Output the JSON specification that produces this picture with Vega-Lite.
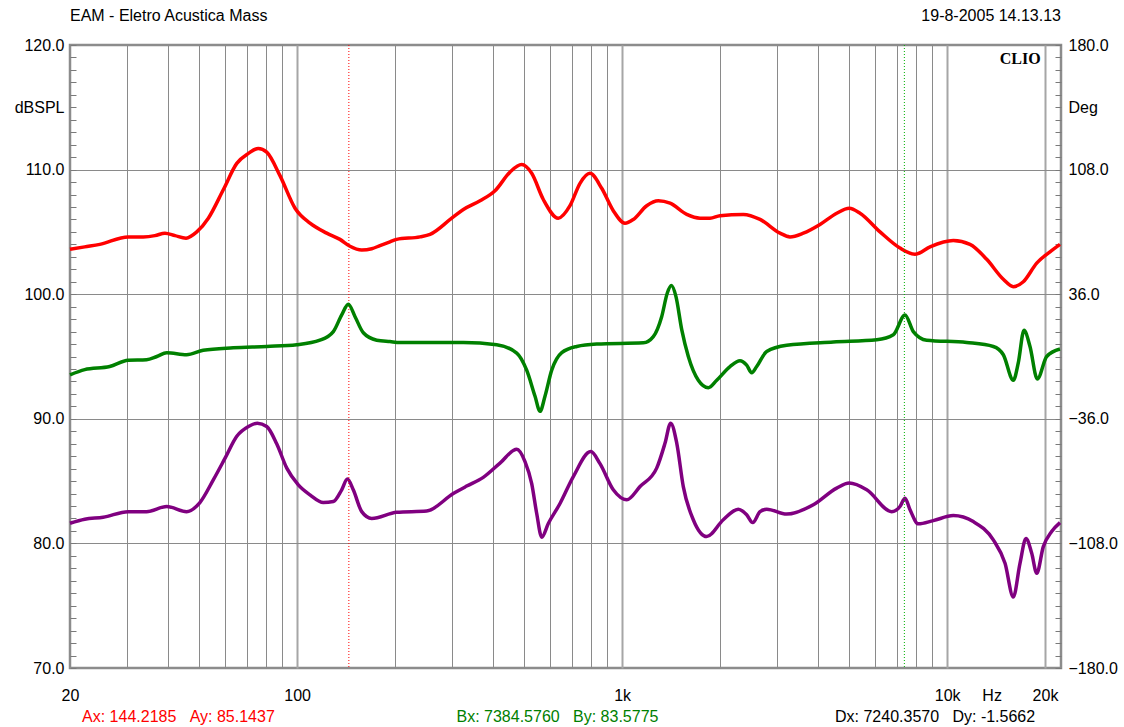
{
  "$schema": "https://vega.github.io/schema/vega-lite/v6.json",
  "width": 991,
  "height": 623,
  "autosize": {"type": "none"},
  "padding": {"left": 70, "top": 45, "right": 63, "bottom": 59},
  "background": "white",
  "config": {
    "font": "Liberation Sans",
    "view": {"stroke": "#8c8c8c", "strokeWidth": 2.5},
    "axis": {"labelFont": "Liberation Sans", "labelFontSize": 16, "labelColor": "#000000", "domain": false, "title": null, "labelOverlap": false}
  },
  "datasets": {
    "spl_red": [
      {"f":20,"v":103.6},{"f":22.2,"v":103.8},{"f":24.7,"v":104.0},{"f":30.2,"v":104.6},{"f":33.6,"v":104.6},{"f":36.5,"v":104.7},{"f":39.2,"v":104.9},{"f":42.1,"v":104.7},{"f":45.5,"v":104.5},{"f":49.1,"v":105.0},{"f":53.3,"v":106.1},{"f":59.3,"v":108.4},{"f":65.2,"v":110.5},{"f":70.8,"v":111.3},{"f":75.9,"v":111.7},{"f":80.6,"v":111.4},{"f":88.6,"v":109.5},{"f":98.5,"v":106.9},{"f":109.5,"v":105.7},{"f":123.3,"v":104.9},{"f":135.4,"v":104.4},{"f":145.4,"v":103.85},{"f":158,"v":103.55},{"f":169.6,"v":103.65},{"f":179.8,"v":103.9},{"f":193,"v":104.2},{"f":202.4,"v":104.4},{"f":238.8,"v":104.6},{"f":256.4,"v":104.8},{"f":298.9,"v":106.1},{"f":324.6,"v":106.8},{"f":365.3,"v":107.5},{"f":406.2,"v":108.3},{"f":451.8,"v":109.8},{"f":490.8,"v":110.4},{"f":526.8,"v":109.7},{"f":572,"v":107.6},{"f":636,"v":106.1},{"f":691,"v":107.1},{"f":741.8,"v":108.9},{"f":796,"v":109.7},{"f":865,"v":108.5},{"f":939,"v":106.7},{"f":1020,"v":105.7},{"f":1082,"v":106.0},{"f":1190,"v":107.1},{"f":1292,"v":107.5},{"f":1404,"v":107.3},{"f":1580,"v":106.4},{"f":1736,"v":106.1},{"f":1863,"v":106.1},{"f":2000,"v":106.3},{"f":2359,"v":106.4},{"f":2656,"v":106.0},{"f":3060,"v":104.9},{"f":3284,"v":104.6},{"f":3610,"v":104.9},{"f":4062,"v":105.6},{"f":4572,"v":106.5},{"f":4998,"v":106.9},{"f":5394,"v":106.5},{"f":6214,"v":105.0},{"f":7158,"v":103.7},{"f":7962,"v":103.2},{"f":8857,"v":103.8},{"f":10444,"v":104.3},{"f":11754,"v":104.0},{"f":13232,"v":102.8},{"f":14886,"v":101.2},{"f":15980,"v":100.6},{"f":17150,"v":101.0},{"f":18860,"v":102.5},{"f":20720,"v":103.4},{"f":22240,"v":104.0}
    ],
    "spl_purple": [
      {"f":20,"v":81.62},{"f":22.2,"v":81.94},{"f":25.3,"v":82.1},{"f":30.2,"v":82.55},{"f":34.4,"v":82.55},{"f":39.7,"v":82.96},{"f":45.7,"v":82.55},{"f":50.2,"v":83.28},{"f":55.2,"v":85.1},{"f":60.0,"v":86.84},{"f":65.2,"v":88.6},{"f":70.8,"v":89.38},{"f":75.4,"v":89.65},{"f":80.6,"v":89.38},{"f":86.5,"v":88.0},{"f":92.9,"v":86.04},{"f":100.8,"v":84.7},{"f":109.5,"v":83.9},{"f":120.3,"v":83.28},{"f":129.2,"v":83.36},{"f":137.1,"v":84.3},{"f":142.7,"v":85.16},{"f":148.8,"v":84.3},{"f":158,"v":82.55},{"f":169.6,"v":82.0},{"f":202.4,"v":82.5},{"f":250.4,"v":82.6},{"f":302.2,"v":84.0},{"f":332.4,"v":84.6},{"f":373.8,"v":85.3},{"f":420.8,"v":86.44},{"f":473.8,"v":87.56},{"f":502.4,"v":86.57},{"f":526.8,"v":84.8},{"f":545.8,"v":82.4},{"f":565.6,"v":80.5},{"f":592.6,"v":81.6},{"f":643.8,"v":83.2},{"f":707.4,"v":85.36},{"f":800.4,"v":87.37},{"f":854.6,"v":86.4},{"f":939,"v":84.3},{"f":1033,"v":83.5},{"f":1135,"v":84.56},{"f":1277,"v":86.04},{"f":1355,"v":88.05},{"f":1410,"v":89.65},{"f":1472,"v":88.05},{"f":1542,"v":84.56},{"f":1655,"v":81.9},{"f":1820,"v":80.55},{"f":2047,"v":81.9},{"f":2276,"v":82.75},{"f":2416,"v":82.3},{"f":2522,"v":81.67},{"f":2656,"v":82.55},{"f":2784,"v":82.75},{"f":3208,"v":82.35},{"f":3874,"v":83.1},{"f":4572,"v":84.44},{"f":4998,"v":84.84},{"f":5656,"v":84.3},{"f":6752,"v":82.55},{"f":7158,"v":82.96},{"f":7418,"v":83.63},{"f":7686,"v":82.7},{"f":8152,"v":81.57},{"f":9064,"v":81.83},{"f":10444,"v":82.23},{"f":12032,"v":81.75},{"f":13866,"v":80.28},{"f":15068,"v":78.4},{"f":15980,"v":75.7},{"f":16752,"v":78.4},{"f":17480,"v":80.4},{"f":18204,"v":79.2},{"f":18860,"v":77.6},{"f":19762,"v":79.74},{"f":20960,"v":80.95},{"f":22240,"v":81.67}
    ],
    "phase": [
      {"f":20,"deg":-10.6},{"f":22.2,"deg":-7.6},{"f":26.5,"deg":-5.8},{"f":30.2,"deg":-2.2},{"f":34.4,"deg":-1.9},{"f":37.0,"deg":0},{"f":39.7,"deg":2.2},{"f":45.7,"deg":1.0},{"f":51.4,"deg":3.6},{"f":63.6,"deg":5.0},{"f":80.6,"deg":5.8},{"f":99.7,"deg":6.8},{"f":117.5,"deg":9.4},{"f":129.2,"deg":14.4},{"f":137.1,"deg":24.1},{"f":143.7,"deg":30.2},{"f":150.7,"deg":23.0},{"f":159.8,"deg":13.7},{"f":175.7,"deg":9.4},{"f":193,"deg":8.6},{"f":207.2,"deg":8.1},{"f":324.6,"deg":8.1},{"f":411,"deg":6.8},{"f":473.8,"deg":2.0},{"f":508.4,"deg":-7.9},{"f":539.4,"deg":-23.0},{"f":558.8,"deg":-31.7},{"f":578.8,"deg":-23.0},{"f":607,"deg":-7.9},{"f":651.8,"deg":2.2},{"f":724.8,"deg":5.8},{"f":835,"deg":7.2},{"f":1162,"deg":7.9},{"f":1247,"deg":11.5},{"f":1323,"deg":23.0},{"f":1377,"deg":36.7},{"f":1417,"deg":41.0},{"f":1464,"deg":34.6},{"f":1525,"deg":15.5},{"f":1598,"deg":0},{"f":1715,"deg":-13.7},{"f":1841,"deg":-18},{"f":1954,"deg":-13.7},{"f":2147,"deg":-5.8},{"f":2304,"deg":-2.4},{"f":2416,"deg":-5.0},{"f":2504,"deg":-9.4},{"f":2594,"deg":-5.8},{"f":2784,"deg":2.9},{"f":3208,"deg":6.5},{"f":4463,"deg":8.4},{"f":6072,"deg":9.7},{"f":6830,"deg":12.6},{"f":7418,"deg":24.0},{"f":7868,"deg":14.4},{"f":8650,"deg":9.4},{"f":11484,"deg":8.1},{"f":13866,"deg":5.8},{"f":14886,"deg":1.0},{"f":15980,"deg":-13.7},{"f":16554,"deg":-3.6},{"f":17236,"deg":15.1},{"f":17982,"deg":5.8},{"f":18938,"deg":-13.0},{"f":20240,"deg":0},{"f":22240,"deg":4.3}
    ],
    "cursors": [
      {"cursor":"A","f":144.2185},{"cursor":"B","f":7384.576}
    ]
  },
  "layer": [
    {
      "data": {"name": "spl_red"},
      "mark": {"type": "line", "color": "#ff0000", "strokeWidth": 3.5, "interpolate": "monotone", "strokeJoin": "round"},
      "encoding": {
        "x": {
          "field": "f", "type": "quantitative",
          "scale": {"type": "log", "domain": [20, 22400], "nice": false},
          "axis": {
            "orient": "bottom",
            "values": [20,30,40,50,60,70,80,90,100,200,300,400,500,600,700,800,900,1000,2000,3000,4000,5000,6000,7000,8000,9000,10000,13700,20000],
            "labelExpr": "datum.value == 20 ? '20' : datum.value == 100 ? '100' : datum.value == 1000 ? '1k' : datum.value == 10000 ? '10k' : datum.value == 13700 ? 'Hz' : datum.value == 20000 ? '20k' : ''",
            "ticks": false,
            "labelPadding": 19,
            "labelFlush": false,
            "labelOverlap": false,
            "grid": true,
            "gridOpacity": {"condition": {"test": "datum.value == 13700 || datum.value == 20", "value": 0}, "value": 1},
            "gridColor": {"condition": {"test": "datum.value == 100 || datum.value == 1000 || datum.value == 10000 || datum.value == 20000", "value": "#a6a6a6"}, "value": "#8a8a8a"},
            "gridWidth": {"condition": {"test": "datum.value == 100 || datum.value == 1000 || datum.value == 10000 || datum.value == 20000", "value": 2}, "value": 1}
          }
        },
        "y": {
          "field": "v", "type": "quantitative",
          "scale": {"domain": [70, 120], "nice": false, "zero": false},
          "axis": {
            "orient": "left",
            "values": [70,71,72,73,74,75,76,77,78,79,80,81,82,83,84,85,86,87,88,89,90,91,92,93,94,95,96,97,98,99,100,101,102,103,104,105,106,107,108,109,110,111,112,113,114,115,116,117,118,119,120],
            "labelExpr": "datum.value % 10 == 0 ? format(datum.value, '.1f') : (datum.value == 115 ? 'dBSPL' : '')",
            "tickSize": -6,
            "tickColor": "#7a7a7a",
            "tickWidth": 1,
            "labelPadding": 12,
            "grid": true,
            "gridColor": "#8a8a8a",
            "gridOpacity": {"condition": {"test": "datum.value % 10 == 0 && datum.value > 70 && datum.value < 120", "value": 1}, "value": 0}
          }
        }
      }
    },
    {
      "data": {"name": "spl_purple"},
      "mark": {"type": "line", "color": "#800080", "strokeWidth": 3.5, "interpolate": "monotone", "strokeJoin": "round"},
      "encoding": {
        "x": {"field": "f", "type": "quantitative"},
        "y": {"field": "v", "type": "quantitative", "scale": {"domain": [70, 120], "nice": false, "zero": false}, "axis": null}
      }
    },
    {
      "data": {"name": "cursors"},
      "mark": {"type": "rule", "strokeWidth": 1, "strokeDash": [1, 2]},
      "encoding": {
        "x": {"field": "f", "type": "quantitative"},
        "color": {"field": "cursor", "type": "nominal", "scale": {"domain": ["A", "B"], "range": ["#ff0000", "#00b000"]}, "legend": null}
      }
    },
    {
      "data": {"values": [{}]},
      "mark": {"type": "text", "text": "EAM - Eletro Acustica Mass", "align": "left", "baseline": "middle", "fontSize": 16, "color": "#000000"},
      "encoding": {
        "x": {"datum": 20, "type": "quantitative"},
        "y": {"datum": 122.35, "type": "quantitative", "scale": {"domain": [70, 120], "nice": false, "zero": false}, "axis": null}
      }
    },
    {
      "data": {"values": [{}]},
      "mark": {"type": "text", "text": "19-8-2005 14.13.13", "align": "right", "baseline": "middle", "fontSize": 16, "color": "#000000"},
      "encoding": {
        "x": {"datum": 22400, "type": "quantitative"},
        "y": {"datum": 122.35, "type": "quantitative", "scale": {"domain": [70, 120], "nice": false, "zero": false}, "axis": null}
      }
    },
    {
      "data": {"values": [{}]},
      "mark": {"type": "text", "text": "CLIO", "align": "right", "baseline": "middle", "fontSize": 16, "fontWeight": "bold", "font": "Liberation Serif", "color": "#000000"},
      "encoding": {
        "x": {"datum": 19400, "type": "quantitative"},
        "y": {"datum": 118.86, "type": "quantitative", "scale": {"domain": [70, 120], "nice": false, "zero": false}, "axis": null}
      }
    },
    {
      "data": {"values": [{}]},
      "mark": {"type": "text", "text": "Ax: 144.2185\u00a0\u00a0\u00a0Ay: 85.1437", "align": "left", "baseline": "alphabetic", "fontSize": 16, "color": "#ff0000"},
      "encoding": {
        "x": {"datum": 21.78, "type": "quantitative"},
        "y": {"datum": 65.66, "type": "quantitative", "scale": {"domain": [70, 120], "nice": false, "zero": false}, "axis": null}
      }
    },
    {
      "data": {"values": [{}]},
      "mark": {"type": "text", "text": "Bx: 7384.5760\u00a0\u00a0\u00a0By: 83.5775", "align": "left", "baseline": "alphabetic", "fontSize": 16, "color": "#008000"},
      "encoding": {
        "x": {"datum": 309.2, "type": "quantitative"},
        "y": {"datum": 65.66, "type": "quantitative", "scale": {"domain": [70, 120], "nice": false, "zero": false}, "axis": null}
      }
    },
    {
      "data": {"values": [{}]},
      "mark": {"type": "text", "text": "Dx: 7240.3570\u00a0\u00a0\u00a0Dy: -1.5662", "align": "left", "baseline": "alphabetic", "fontSize": 16, "color": "#000000"},
      "encoding": {
        "x": {"datum": 4518, "type": "quantitative"},
        "y": {"datum": 65.66, "type": "quantitative", "scale": {"domain": [70, 120], "nice": false, "zero": false}, "axis": null}
      }
    },
    {
      "data": {"name": "phase"},
      "mark": {"type": "line", "color": "#008000", "strokeWidth": 3.5, "interpolate": "monotone", "strokeJoin": "round"},
      "encoding": {
        "x": {"field": "f", "type": "quantitative"},
        "y": {
          "field": "deg", "type": "quantitative",
          "scale": {"domain": [-180, 180], "nice": false, "zero": false},
          "axis": {
            "orient": "right",
            "values": [-180,-172.8,-165.6,-158.4,-151.2,-144,-136.8,-129.6,-122.4,-115.2,-108,-100.8,-93.6,-86.4,-79.2,-72,-64.8,-57.6,-50.4,-43.2,-36,-28.8,-21.6,-14.4,-7.2,0,7.2,14.4,21.6,28.8,36,43.2,50.4,57.6,64.8,72,79.2,86.4,93.6,100.8,108,115.2,122.4,129.6,136.8,144,151.2,158.4,165.6,172.8,180],
            "labelExpr": "indexof([-180,-108,-36,36,108,180], datum.value) >= 0 ? format(datum.value, '.1f') : (datum.value == 144 ? 'Deg' : '')",
            "tickSize": -6,
            "tickColor": "#7a7a7a",
            "tickWidth": 1,
            "labelPadding": 13,
            "grid": false
          }
        }
      }
    }
  ],
  "resolve": {"scale": {"y": "independent"}}
}
